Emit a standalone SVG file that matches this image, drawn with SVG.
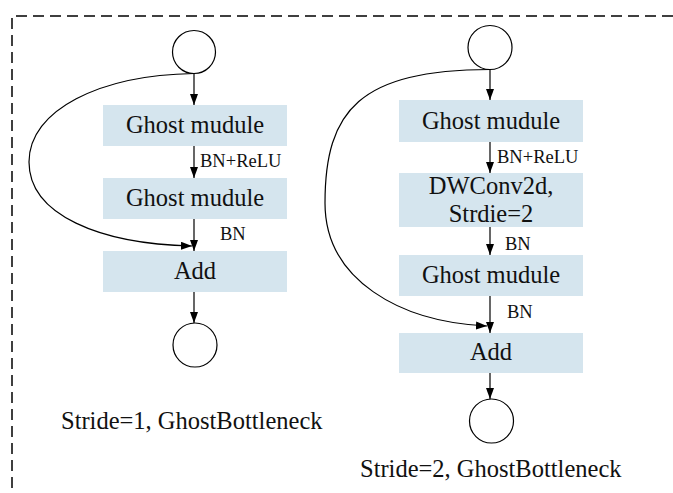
<svg xmlns="http://www.w3.org/2000/svg" width="673" height="493" viewBox="0 0 673 493">
  <defs>
    <marker id="arrow" markerUnits="userSpaceOnUse" markerWidth="11" markerHeight="8" refX="11" refY="4" orient="auto">
      <path d="M0,0 L11,4 L0,8 z" fill="#000"/>
    </marker>
    <style>
      .frame { fill: none; stroke: #000; stroke-width: 1.5; stroke-dasharray: 11 6; }
      .box { fill: #d5e5ee; }
      .io { fill: #fff; stroke: #000; stroke-width: 1.2; }
      .edge { fill: none; stroke: #000; stroke-width: 1.2; marker-end: url(#arrow); }
      .t { font-family: "Liberation Serif", "Times New Roman", serif; font-size: 24.5px; fill: #111; }
      .mid { text-anchor: middle; }
      .lbl { font-family: "Liberation Serif", "Times New Roman", serif; font-size: 18.5px; fill: #111; }
    </style>
  </defs>

  <!-- dashed frame (top and left edges) -->
  <path class="frame" d="M673,16 H12 V493"/>

  <!-- Stride=1 branch -->
  <g id="s1-in"><circle class="io" cx="194" cy="52" r="21.5"/></g>
  <g id="s1-ghost1">
    <rect class="box" x="103" y="105" width="184" height="41"/>
    <text class="t mid" x="195" y="133">Ghost mudule</text>
  </g>
  <g id="s1-ghost2">
    <rect class="box" x="103" y="178" width="184" height="41"/>
    <text class="t mid" x="195" y="206">Ghost mudule</text>
  </g>
  <g id="s1-add">
    <rect class="box" x="103" y="251" width="184" height="41"/>
    <text class="t mid" x="195" y="279">Add</text>
  </g>
  <g id="s1-out"><circle class="io" cx="195" cy="345" r="22"/></g>
  <g id="s1-title"><text class="t" x="61" y="429">Stride=1, GhostBottleneck</text></g>

  <!-- Stride=2 branch -->
  <g id="s2-in"><circle class="io" cx="490" cy="47.5" r="22"/></g>
  <g id="s2-ghost1">
    <rect class="box" x="399" y="100" width="184" height="42"/>
    <text class="t mid" x="491" y="128.5">Ghost mudule</text>
  </g>
  <g id="s2-dwconv">
    <rect class="box" x="399" y="173" width="184" height="54"/>
    <text class="t mid" x="491" y="194">DWConv2d,</text>
    <text class="t mid" x="491" y="222">Strdie=2</text>
  </g>
  <g id="s2-ghost2">
    <rect class="box" x="399" y="255" width="184" height="41"/>
    <text class="t mid" x="491" y="283">Ghost mudule</text>
  </g>
  <g id="s2-add">
    <rect class="box" x="399" y="333" width="184" height="40"/>
    <text class="t mid" x="491" y="360">Add</text>
  </g>
  <g id="s2-out"><circle class="io" cx="491.5" cy="421" r="22"/></g>
  <g id="s2-title"><text class="t" x="360" y="477">Stride=2, GhostBottleneck</text></g>

  <!-- connectors -->
  <g id="connectors">
    <path class="edge" d="M194,73.5 V105"/>
    <path class="edge" d="M194,146 V178"/>
    <path class="edge" d="M194,219 V251"/>
    <path class="edge" d="M194,292 V323"/>
    <path class="edge" d="M194,73.5 C100,75 29,110 29,162 C29,215 100,244 192,246"/>
    <text class="lbl" x="200" y="167">BN+ReLU</text>
    <text class="lbl" x="220" y="240">BN</text>

    <path class="edge" d="M490,69.5 V100"/>
    <path class="edge" d="M490,142 V173"/>
    <path class="edge" d="M490,227 V255"/>
    <path class="edge" d="M490,296 V333"/>
    <path class="edge" d="M490,373 V399"/>
    <path class="edge" d="M490,69.5 C360,70 325,110 325,203 C325,280 400,322 487,326"/>
    <text class="lbl" x="497" y="163">BN+ReLU</text>
    <text class="lbl" x="505" y="250">BN</text>
    <text class="lbl" x="507" y="318">BN</text>
  </g>
</svg>
